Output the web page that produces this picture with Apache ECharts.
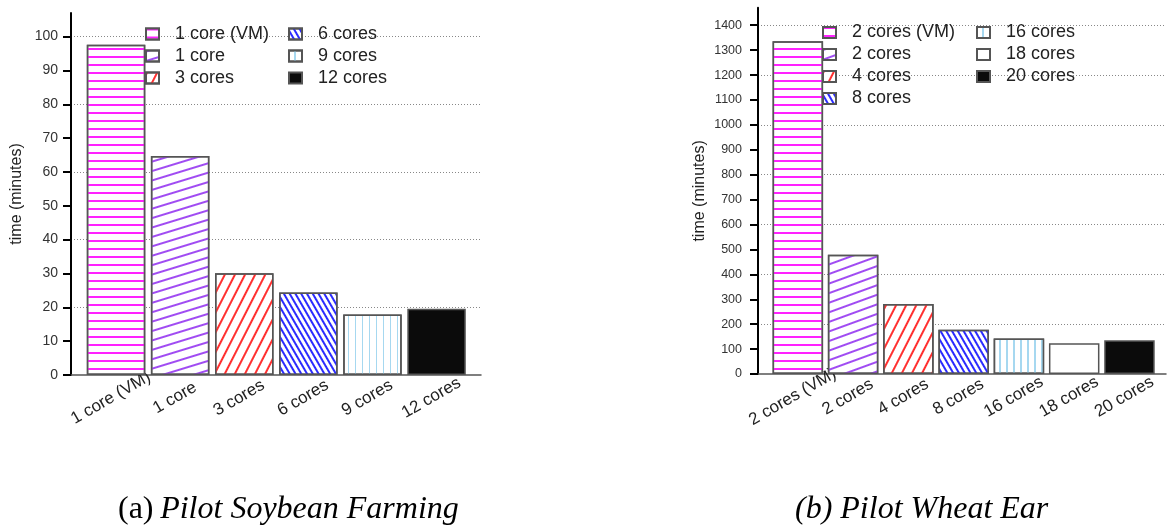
<!DOCTYPE html>
<html>
<head>
<meta charset="utf-8">
<script src="https://cdn.jsdelivr.net/npm/echarts@6/dist/echarts.min.js"></script>
<style>
  html, body { margin: 0; padding: 0; background: #fff; }
  #main { width: 1168px; height: 527px; }
</style>
</head>
<body>
<div id="main"></div>
<script>
// (a) Pilot Soybean Farming
const catsA = ["1 core (VM)", "1 core", "3 cores", "6 cores", "9 cores", "12 cores"];
const timesA = [97.6, 64.7, 30.1, 24.4, 17.9, 19.6];
const ticksA = [0, 10, 20, 30, 40, 50, 60, 70, 80, 90, 100];
// (b) Pilot Wheat Ear
const catsB = ["2 cores (VM)", "2 cores", "4 cores", "8 cores", "16 cores", "18 cores", "20 cores"];
const timesB = [1336, 479, 281, 178, 143, 123, 135];
const ticksB = [0, 100, 200, 300, 400, 500, 600, 700, 800, 900, 1000, 1100, 1200, 1300, 1400];

const FONT = "Liberation Sans";

function stripes(color, deg, gap, w) {
  return {
    symbol: "rect",
    symbolSize: 1,
    color: color,
    dashArrayX: [1, 0],
    dashArrayY: [w, gap],
    rotation: deg * Math.PI / 180
  };
}

const looksA = [
  { color: "#fff", decal: stripes("#ff22ff", 0, 6, 1.5) },
  { color: "#fff", decal: stripes("#a04cf2", -17, 6.2, 1.5) },
  { color: "#fff", decal: stripes("#ff3030", -63, 6.2, 1.5) },
  { color: "#fff", decal: stripes("#2b2bff", 60, 3, 1.3) },
  { color: "#fff", decal: stripes("#a6d8f0", 90, 4.3, 1.5) },
  { color: "#0b0b0b" }
];
const looksB = [
  { color: "#fff", decal: stripes("#ff22ff", 0, 6, 1.5) },
  { color: "#fff", decal: stripes("#a04cf2", -20, 6.2, 1.5) },
  { color: "#fff", decal: stripes("#ff3030", -63, 6.2, 1.5) },
  { color: "#fff", decal: stripes("#2b2bff", 60, 3, 1.3) },
  { color: "#fff", decal: stripes("#a6d8f0", 90, 4.3, 1.5) },
  { color: "#fff" },
  { color: "#0b0b0b" }
];

function barSeries(cats, vals, looks, xi, yi, stack, width) {
  return cats.map(function (name, i) {
    const style = {
      color: looks[i].color,
      borderColor: "#555",
      borderWidth: 1.5
    };
    if (looks[i].decal) style.decal = looks[i].decal;
    return {
      name: name,
      type: "bar",
      stack: stack,
      xAxisIndex: xi,
      yAxisIndex: yi,
      barWidth: width,
      itemStyle: style,
      emphasis: { disabled: true },
      data: cats.map(function (c, j) { return j === i ? vals[i] : "-"; })
    };
  });
}

function legend(names, left, top) {
  return {
    data: names,
    orient: "vertical",
    left: left,
    top: top,
    padding: 0,
    itemGap: 2,
    itemWidth: 13,
    itemHeight: 11,
    icon: "rect",
    selectedMode: false,
    textStyle: { fontFamily: FONT, fontSize: 18, color: "#222", lineHeight: 20, padding: [0, 0, 0, 11] }
  };
}

function frameX(gi) {
  return {
    gridIndex: gi, type: "value", min: 0, max: 1,
    axisLine: { show: true, lineStyle: { color: "#555", width: 1.5 } },
    axisTick: { show: false }, axisLabel: { show: false }, splitLine: { show: false }
  };
}
function catX(gi, cats, size) {
  return {
    gridIndex: gi, type: "category", data: cats,
    axisLine: { show: false }, axisTick: { show: false },
    axisLabel: {
      interval: 0, rotate: 30, align: "center", verticalAlign: "middle",
      margin: 20, padding: [0, 12, 0, 0],
      fontFamily: FONT, fontSize: size, color: "#222"
    }
  };
}
function tickY(gi, max, ticks, size, gap, margin) {
  return {
    gridIndex: gi, type: "value", min: 0, max: max,
    name: "time (minutes)", nameLocation: "middle", nameGap: gap,
    nameTextStyle: { fontFamily: FONT, fontSize: 16, color: "#222" },
    axisLine: { show: true, lineStyle: { color: "#000", width: 2 } },
    axisTick: { show: true, length: 8, lineStyle: { color: "#000", width: 2 }, customValues: ticks },
    axisLabel: {
      fontFamily: FONT, fontSize: size, color: "#333", margin: margin, customValues: ticks,
      formatter: function (v) { return String(v); }
    },
    splitLine: { show: false }
  };
}
function gridY(gi, max, step) {
  return {
    gridIndex: gi, type: "value", min: 0, max: max, interval: step,
    axisLine: { show: false }, axisTick: { show: false }, axisLabel: { show: false },
    splitLine: { show: true, showMinLine: false, showMaxLine: false,
      lineStyle: { color: "#888", width: 1, type: [1, 2] } }
  };
}
function hiddenY(gi, max) {
  return { gridIndex: gi, type: "value", min: 0, max: max, show: false };
}

const chart = echarts.init(document.getElementById("main"));
chart.setOption({
  animation: false,
  backgroundColor: "#fff",
  grid: [
    { left: 71, top: 12.9, width: 410, bottom: 152 },
    { left: 84, top: 12.9, width: 384.6, bottom: 152 },
    { left: 758, top: 7.8, width: 408, bottom: 153 },
    { left: 770.2, top: 7.8, width: 386.9, bottom: 153 }
  ],
  legend: [
    legend(catsA.slice(0, 3), 145, 24),
    legend(catsA.slice(3), 288, 24),
    legend(catsB.slice(0, 4), 822, 22.5),
    legend(catsB.slice(4), 976, 22.5)
  ],
  xAxis: [frameX(0), catX(1, catsA, 17), frameX(2), catX(3, catsB, 17)],
  yAxis: [
    tickY(0, 107, ticksA, 14, 46, 13),
    gridY(0, 107, 20),
    hiddenY(1, 107),
    tickY(2, 1470, ticksB, 12.5, 50, 16),
    gridY(2, 1470, 200),
    hiddenY(3, 1470)
  ],
  series: [].concat(
    barSeries(catsA, timesA, looksA, 1, 2, "a", 58.5),
    barSeries(catsB, timesB, looksB, 3, 5, "b", 50.5)
  ),
  graphic: [
    {
      type: "text", x: 118, y: 510,
      style: {
        text: "{n|(a)}  {i|Pilot Soybean Farming}",
        verticalAlign: "middle",
        rich: {
          n: { fontFamily: "Liberation Serif", fontSize: 32, fill: "#000" },
          i: { fontFamily: "Liberation Serif", fontSize: 32, fontStyle: "italic", fill: "#000" }
        }
      }
    },
    {
      type: "text", x: 795, y: 510,
      style: {
        text: "(b) Pilot Wheat Ear",
        verticalAlign: "middle",
        fontFamily: "Liberation Serif", fontSize: 32, fontStyle: "italic", fill: "#000"
      }
    }
  ]
});
</script>
</body>
</html>
